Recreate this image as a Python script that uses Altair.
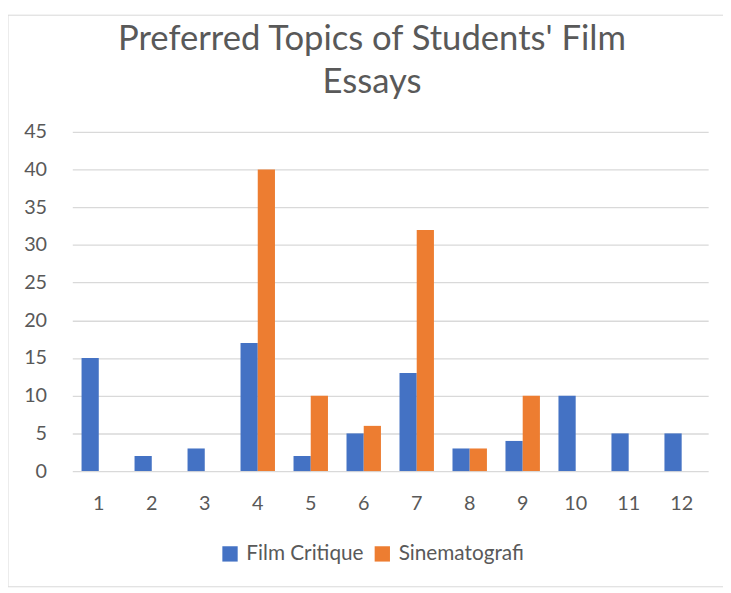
import altair as alt
import pandas as pd

categories = [str(i) for i in range(1, 13)]
film_critique = [15, 2, 3, 17, 2, 5, 13, 3, 4, 10, 5, 5]
sinematografi = [0, 0, 0, 40, 10, 6, 32, 3, 10, 0, 0, 0]
series_names = ["Film Critique", "Sinematografi"]
colors = ["#4472C4", "#ED7D31"]
title_lines = ["Preferred Topics of Students' Film", "Essays"]

rows = []
for c, a, b in zip(categories, film_critique, sinematografi):
    rows.append({"cat": c, "series": series_names[0], "value": a})
    rows.append({"cat": c, "series": series_names[1], "value": b})
df = pd.DataFrame(rows)

FONT = "Lato"
GRAY = "#595959"

bars = alt.Chart(df).mark_bar().encode(
    x=alt.X("cat:N", sort=categories,
            scale=alt.Scale(paddingInner=0.35, paddingOuter=0.175),
            axis=alt.Axis(title=None, labelAngle=0, ticks=False, domain=False,
                          labelPadding=23, labelFontSize=20, labelColor=GRAY,
                          labelFont=FONT, grid=False)),
    xOffset=alt.XOffset("series:N", sort=series_names),
    y=alt.Y("value:Q", scale=alt.Scale(domain=[0, 45]),
            axis=alt.Axis(title=None, values=list(range(0, 50, 5)), ticks=False,
                          domain=False, labelPadding=26, labelFontSize=20,
                          labelColor=GRAY, labelFont=FONT, gridColor="#D9D9D9",
                          gridWidth=1.3)),
    color=alt.Color("series:N", sort=series_names,
                    scale=alt.Scale(domain=series_names, range=colors),
                    legend=alt.Legend(title=None, orient="none", direction="horizontal",
                                      legendX=149, legendY=416, symbolType="square",
                                      symbolSize=240, symbolStrokeWidth=0,
                                      labelFontSize=21, labelColor=GRAY, labelFont=FONT,
                                      columnPadding=8, labelOffset=6)),
)

border = alt.Chart(alt.Data(values=[{}])).mark_rect(
    fill=None, stroke="#D9D9D9", strokeWidth=1
).encode(x=alt.value(-65), x2=alt.value(700), y=alt.value(-118), y2=alt.value(460))

title = alt.Chart(alt.Data(values=[{"t": title_lines}])).mark_text(
    font=FONT, fontSize=35, color=GRAY, lineHeight=44, align="center", baseline="middle"
).encode(text="t:N", x=alt.value(303), y=alt.value(-94))

chart = alt.layer(border, title, bars).properties(
    width=643, height=343,
    autosize=alt.AutoSizeParams(type="none"),
    padding={"left": 65, "top": 122, "right": 15, "bottom": 120},
).configure_view(stroke=None)

chart.save("out.html", embed_options={"renderer": "svg", "actions": False})
